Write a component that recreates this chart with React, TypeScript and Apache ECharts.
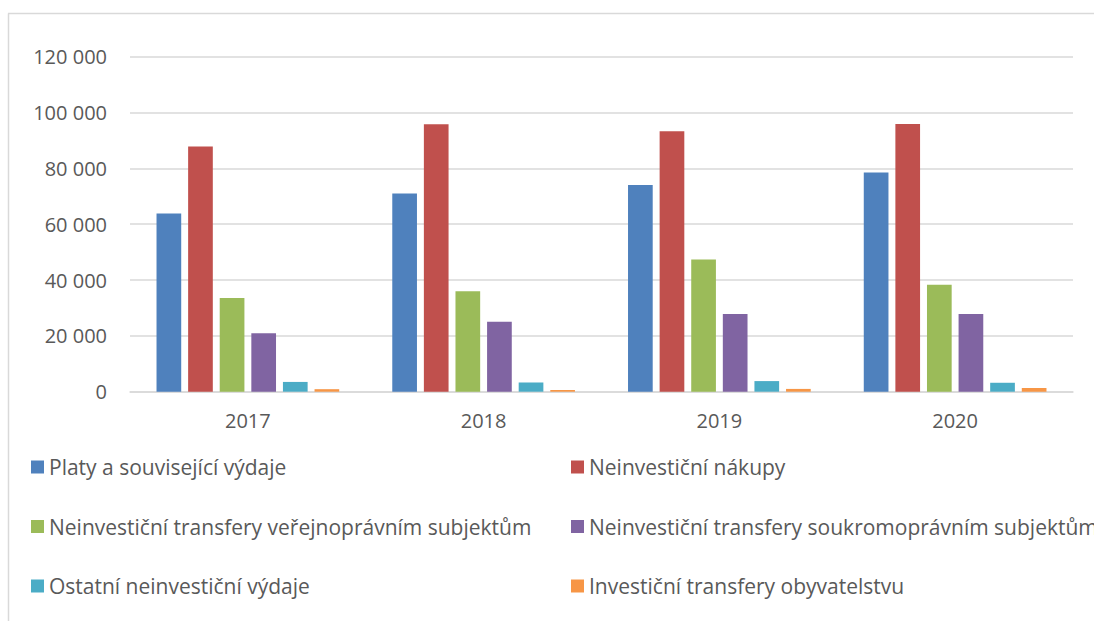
import React, { useEffect, useRef } from "react";
import * as echarts from "echarts";

const categories = ["2017", "2018", "2019", "2020"];
const seriesNames = [
  "Platy a související výdaje",
  "Neinvestiční nákupy",
  "Neinvestiční transfery veřejnoprávním subjektům",
  "Neinvestiční transfery soukromoprávním subjektům",
  "Ostatní neinvestiční výdaje",
  "Investiční transfery obyvatelstvu",
];
const platy = [63800, 71000, 74000, 78500];
const nakupy = [87800, 95800, 93300, 95900];
const verejnopravni = [33600, 36000, 47400, 38300];
const soukromopravni = [20900, 25100, 27800, 27800];
const ostatni = [3500, 3300, 3800, 3200];
const investicni = [900, 600, 1000, 1300];
const seriesValues = [platy, nakupy, verejnopravni, soukromopravni, ostatni, investicni];
const colors = ["#4F81BD", "#C0504D", "#9BBB59", "#8064A2", "#4BACC6", "#F79646"];
const yTicks = [0, 20000, 40000, 60000, 80000, 100000, 120000];

const fmt = (v: number) => {
  const s = String(Math.round(v));
  return s.replace(/\B(?=(\d{3})+(?!\d))/g, " ");
};

export default function App() {
  const ref = useRef<HTMLDivElement>(null);
  useEffect(() => {
    if (!ref.current) return;
    const chart = echarts.init(ref.current, null, { renderer: "svg" });
    const font = "'Open Sans', 'Noto Sans', sans-serif";
    const legendText = { color: "#595959", fontSize: 21, fontFamily: font, lineHeight: 21 };
    const legendBase = {
      orient: "vertical",
      top: 456.5,
      padding: 0,
      itemWidth: 13,
      itemHeight: 13,
      itemGap: 38.5,
      icon: "rect",
      textStyle: legendText,
    };
    chart.setOption({
      animation: false,
      backgroundColor: "#ffffff",
      textStyle: { fontFamily: font },
      grid: { left: 130, right: 21, top: 56.7, bottom: 229.3, containLabel: false },
      legend: [
        { ...legendBase, left: 31, data: [seriesNames[0], seriesNames[2], seriesNames[4]] },
        { ...legendBase, left: 571, data: [seriesNames[1], seriesNames[3], seriesNames[5]] },
      ],
      xAxis: {
        type: "category",
        data: categories,
        axisLine: { lineStyle: { color: "#d9d9d9", width: 1.5 } },
        axisTick: { show: false },
        axisLabel: { color: "#595959", fontSize: 20, fontFamily: font, margin: 19 },
      },
      yAxis: {
        type: "value",
        min: 0,
        max: 120000,
        interval: 20000,
        axisLine: { show: false },
        axisTick: { show: false },
        splitLine: { lineStyle: { color: "#d9d9d9", width: 1.5 } },
        axisLabel: {
          color: "#595959",
          fontSize: 20,
          fontFamily: font,
          margin: 23,
          formatter: (v: number) => (yTicks.includes(v) ? fmt(v) : ""),
        },
      },
      series: seriesNames.map((name, i) => ({
        name,
        type: "bar",
        data: seriesValues[i],
        barCategoryGap: "22.5%",
        barGap: "28%",
        itemStyle: { color: colors[i] },
      })),
      graphic: [
        {
          type: "line",
          shape: { x1: 8, y1: 13.5, x2: 1094, y2: 13.5 },
          style: { stroke: "#d9d9d9", lineWidth: 1.5 },
          silent: true,
        },
        {
          type: "line",
          shape: { x1: 8.5, y1: 13.5, x2: 8.5, y2: 621 },
          style: { stroke: "#d9d9d9", lineWidth: 1.5 },
          silent: true,
        },
      ],
    });
    return () => chart.dispose();
  }, []);
  return (
    <div
      ref={ref}
      style={{ position: "fixed", left: 0, top: 0, width: 1094, height: 621, background: "#fff" }}
    />
  );
}
